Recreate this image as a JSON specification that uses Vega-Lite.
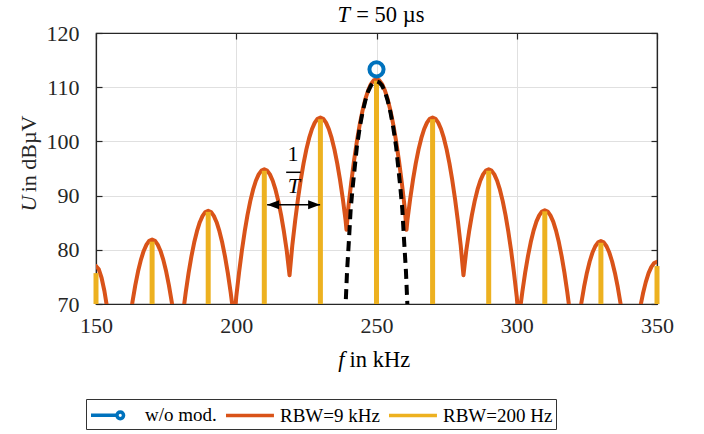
{
  "$schema": "https://vega.github.io/schema/vega-lite/v6.json",
  "width": 561,
  "height": 271,
  "autosize": {"type": "none"},
  "padding": {"left": 96, "top": 33, "right": 47, "bottom": 130},
  "background": "white",
  "config": {
    "view": {"stroke": "#262626", "strokeWidth": 1.2}
  },
  "datasets": {
    "orange": [
      {"f":149,"u":77.1},{"f":150,"u":77.0},{"f":151,"u":76.4},{"f":152,"u":74.8},{"f":153,"u":72.4},{"f":154,"u":69.2},{"f":155,"u":65.5},{"f":156,"u":61.5},{"f":158,"u":57},{"f":161,"u":62.87},
      {"f":162,"u":66.86},{"f":163,"u":70.39},{"f":164,"u":73.44},{"f":165,"u":76.03},{"f":166,"u":78.14},{"f":167,"u":79.79},{"f":168,"u":80.96},{"f":169,"u":81.67},{"f":170,"u":81.9},
      {"f":171,"u":81.67},{"f":172,"u":80.96},{"f":173,"u":79.79},{"f":174,"u":78.14},{"f":175,"u":76.03},{"f":176,"u":73.44},{"f":177,"u":70.39},{"f":178,"u":66.86},{"f":179,"u":62.87},{"f":179.44,"u":60},
      {"f":180,"u":63.7},{"f":181,"u":68.17},{"f":182,"u":72.16},{"f":183,"u":75.69},{"f":184,"u":78.74},{"f":185,"u":81.33},{"f":186,"u":83.44},{"f":187,"u":85.09},{"f":188,"u":86.26},{"f":189,"u":86.97},{"f":190,"u":87.2},
      {"f":191,"u":86.97},{"f":192,"u":86.26},{"f":193,"u":85.09},{"f":194,"u":83.44},{"f":195,"u":81.33},{"f":196,"u":78.74},{"f":197,"u":75.69},{"f":198,"u":72.16},{"f":199,"u":68.17},{"f":199.2,"u":66},
      {"f":200,"u":71.35},{"f":201,"u":75.82},{"f":202,"u":79.81},{"f":203,"u":83.34},{"f":204,"u":86.39},{"f":205,"u":88.98},{"f":206,"u":91.09},{"f":207,"u":92.74},{"f":208,"u":93.91},{"f":209,"u":94.62},{"f":210,"u":94.85},
      {"f":211,"u":94.62},{"f":212,"u":93.91},{"f":213,"u":92.74},{"f":214,"u":91.09},{"f":215,"u":88.98},{"f":216,"u":86.39},{"f":217,"u":83.34},{"f":218,"u":79.81},{"f":219,"u":75.3},
      {"f":220,"u":80.9},{"f":221,"u":85.37},{"f":222,"u":89.36},{"f":223,"u":92.89},{"f":224,"u":95.94},{"f":225,"u":98.53},{"f":226,"u":100.64},{"f":227,"u":102.29},{"f":228,"u":103.46},{"f":229,"u":104.17},{"f":230,"u":104.4},
      {"f":231,"u":104.17},{"f":232,"u":103.46},{"f":233,"u":102.29},{"f":234,"u":100.64},{"f":235,"u":98.53},{"f":236,"u":95.94},{"f":237,"u":92.89},{"f":238,"u":89.36},{"f":239,"u":85.37},{"f":239.3,"u":83.7},
      {"f":240,"u":88.0},{"f":241,"u":92.47},{"f":242,"u":96.46},{"f":243,"u":99.99},{"f":244,"u":103.04},{"f":245,"u":105.63},{"f":246,"u":107.74},{"f":247,"u":109.39},{"f":248,"u":110.56},{"f":249,"u":111.27},{"f":250,"u":111.5},
      {"f":251,"u":111.27},{"f":252,"u":110.56},{"f":253,"u":109.39},{"f":254,"u":107.74},{"f":255,"u":105.63},{"f":256,"u":103.04},{"f":257,"u":99.99},{"f":258,"u":96.46},{"f":259,"u":92.47},{"f":260,"u":88.0},{"f":260.7,"u":83.7},
      {"f":261,"u":85.37},{"f":262,"u":89.36},{"f":263,"u":92.89},{"f":264,"u":95.94},{"f":265,"u":98.53},{"f":266,"u":100.64},{"f":267,"u":102.29},{"f":268,"u":103.46},{"f":269,"u":104.17},{"f":270,"u":104.4},
      {"f":271,"u":104.17},{"f":272,"u":103.46},{"f":273,"u":102.29},{"f":274,"u":100.64},{"f":275,"u":98.53},{"f":276,"u":95.94},{"f":277,"u":92.89},{"f":278,"u":89.36},{"f":279,"u":85.37},{"f":280,"u":80.9},{"f":281,"u":75.3},
      {"f":282,"u":79.81},{"f":283,"u":83.34},{"f":284,"u":86.39},{"f":285,"u":88.98},{"f":286,"u":91.09},{"f":287,"u":92.74},{"f":288,"u":93.91},{"f":289,"u":94.62},{"f":290,"u":94.85},
      {"f":291,"u":94.62},{"f":292,"u":93.91},{"f":293,"u":92.74},{"f":294,"u":91.09},{"f":295,"u":88.98},{"f":296,"u":86.39},{"f":297,"u":83.34},{"f":298,"u":79.81},{"f":299,"u":75.82},{"f":300,"u":71.35},{"f":300.8,"u":66},
      {"f":301,"u":68.27},{"f":302,"u":72.26},{"f":303,"u":75.79},{"f":304,"u":78.84},{"f":305,"u":81.43},{"f":306,"u":83.54},{"f":307,"u":85.19},{"f":308,"u":86.36},{"f":309,"u":87.07},{"f":310,"u":87.3},
      {"f":311,"u":87.07},{"f":312,"u":86.36},{"f":313,"u":85.19},{"f":314,"u":83.54},{"f":315,"u":81.43},{"f":316,"u":78.84},{"f":317,"u":75.79},{"f":318,"u":72.26},{"f":319,"u":68.27},{"f":320,"u":63.8},{"f":320.6,"u":61},
      {"f":321,"u":62.57},{"f":322,"u":66.56},{"f":323,"u":70.09},{"f":324,"u":73.14},{"f":325,"u":75.73},{"f":326,"u":77.84},{"f":327,"u":79.49},{"f":328,"u":80.66},{"f":329,"u":81.37},{"f":330,"u":81.6},
      {"f":331,"u":81.37},{"f":332,"u":80.66},{"f":333,"u":79.49},{"f":334,"u":77.84},{"f":335,"u":75.73},{"f":336,"u":73.14},{"f":337,"u":70.09},{"f":338,"u":66.56},{"f":339,"u":62.57},{"f":340,"u":58},
      {"f":341,"u":58.77},{"f":342,"u":62.76},{"f":343,"u":66.29},{"f":344,"u":69.34},{"f":345,"u":71.93},{"f":346,"u":74.04},{"f":347,"u":75.69},{"f":348,"u":76.86},{"f":349,"u":77.57},{"f":350,"u":77.8},{"f":351,"u":77.8}
    ],
    "yellow": [
      {"f":150,"u":75.7},{"f":170,"u":81.5},{"f":190,"u":87.0},{"f":210,"u":94.6},{"f":230,"u":104.1},{"f":250,"u":111.2},
      {"f":270,"u":104.1},{"f":290,"u":94.6},{"f":310,"u":87.1},{"f":330,"u":81.3},{"f":350,"u":77.0}
    ],
    "black": [
      {"f":238.6,"u":65},{"f":239.0,"u":70},{"f":239.5,"u":76},{"f":240.2,"u":82},{"f":240.8,"u":87.5},{"f":241.5,"u":91.5},{"f":242.2,"u":95},{"f":243,"u":99},{"f":244,"u":102.5},{"f":245,"u":105.3},{"f":246,"u":107.5},{"f":247,"u":109.2},{"f":248,"u":110.3},{"f":249,"u":110.9},{"f":250,"u":111.1},
      {"f":251,"u":110.9},{"f":252,"u":110.3},{"f":253,"u":109.2},{"f":254,"u":107.5},{"f":255,"u":105.3},{"f":256,"u":102.5},{"f":257,"u":99},{"f":257.8,"u":95},{"f":258.5,"u":91.5},{"f":259.2,"u":87.5},{"f":259.8,"u":82},{"f":260.5,"u":76},{"f":261.0,"u":70},{"f":261.4,"u":65}
    ],
    "marker": [{"f":250,"u":113.3}],
    "arrow": [{"f1":211.0,"f2":229.9,"u":88.3}],
    "headL": [{"f":211.0,"u":88.3}],
    "headR": [{"f":229.9,"u":88.3}],
    "fracBar": [{"f1":217.8,"f2":222.9,"u":94.3}],
    "fracNum": [{"f":220.2,"u":96.3,"label":"1"}],
    "fracDen": [{"f":220.5,"u":90.4,"label":"T"}],
    "italicLabels": [
      {"f":240.6,"u":122.1,"label":"T"},
      {"f":238.6,"u":58.4,"label":"f"}
    ],
    "plainLabels": [
      {"f":242.8,"u":122.1,"label":"= 50 µs"},
      {"f":240.4,"u":58.4,"label":"in kHz"}
    ],
    "yItalic": [{"f":128.75,"u":90.0,"label":"U"}],
    "yPlain": [{"f":128.75,"u":90.6,"label":"in dBµV"}]
  },
  "resolve": {"axis": {"x": "independent", "y": "independent"}},
  "layer": [
    {
      "data": {"name": "marker"},
      "mark": {"type": "point", "opacity": 0},
      "encoding": {
        "x": {"field": "f", "type": "quantitative", "scale": {"domain": [150, 350], "nice": false, "zero": false},
              "axis": {"orient": "top", "grid": false, "labels": false, "title": null, "values": [150, 200, 250, 300, 350],
                       "tickSize": -6, "tickColor": "#262626", "tickWidth": 1.2, "domainColor": "#262626", "domainWidth": 1.2}},
        "y": {"field": "u", "type": "quantitative", "scale": {"domain": [70, 120], "nice": false, "zero": false},
              "axis": {"orient": "right", "grid": false, "labels": false, "title": null, "values": [70, 80, 90, 100, 110, 120],
                       "tickSize": -6, "tickColor": "#262626", "tickWidth": 1.2, "domainColor": "#262626", "domainWidth": 1.2}}
      }
    },
    {
      "data": {"name": "orange"},
      "mark": {"type": "line", "clip": true, "strokeWidth": 4, "strokeJoin": "round"},
      "encoding": {
        "x": {"field": "f", "type": "quantitative", "scale": {"domain": [150, 350], "nice": false, "zero": false},
              "axis": {"orient": "bottom", "grid": true, "gridColor": "#e0e0e0", "title": null, "values": [150, 200, 250, 300, 350],
                       "labelFont": "Liberation Serif", "labelFontSize": 22, "labelColor": "#262626", "labelFlush": false,
                       "labelPadding": 17, "tickSize": -6, "tickColor": "#262626", "tickWidth": 1.2,
                       "domainColor": "#262626", "domainWidth": 1.2}},
        "y": {"field": "u", "type": "quantitative", "scale": {"domain": [70, 120], "nice": false, "zero": false},
              "axis": {"orient": "left", "grid": true, "gridColor": "#e0e0e0", "title": null, "values": [70, 80, 90, 100, 110, 120],
                       "labelFont": "Liberation Serif", "labelFontSize": 22, "labelColor": "#262626", "labelFlush": false,
                       "labelPadding": 23, "tickSize": -6, "tickColor": "#262626", "tickWidth": 1.2,
                       "domainColor": "#262626", "domainWidth": 1.2}},
        "color": {
          "datum": "RBW=9 kHz", "type": "nominal",
          "scale": {"domain": ["w/o mod.", "RBW=9 kHz", "RBW=200 Hz"], "range": ["#0072BD", "#D95319", "#EDB120"]},
          "legend": {
            "title": null, "orient": "none", "legendX": -10, "legendY": 366, "direction": "horizontal",
            "symbolType": "stroke", "symbolSize": 484, "symbolStrokeWidth": 3.5,
            "labelFont": "Liberation Serif", "labelFontSize": 19, "labelColor": "#000000",
            "labelOffset": 30, "columnPadding": 2, "strokeColor": "#333333", "padding": 3,
            "encode": {"symbols": {"update": {
              "shape": {"signal": "datum.value === 'w/o mod.' ? 'M-1,0L1.45,0M1.66,-0.3A0.3,0.3 0 1,1 1.66,0.3A0.3,0.3 0 1,1 1.66,-0.3' : 'M-1,0L3.36,0'"},
              "fill": {"value": "white"}
            }}}
          }
        }
      }
    },
    {
      "data": {"name": "yellow"},
      "mark": {"type": "rule", "strokeWidth": 5},
      "encoding": {
        "x": {"field": "f", "type": "quantitative", "axis": null},
        "y": {"field": "u", "type": "quantitative", "axis": null},
        "y2": {"datum": 70},
        "color": {"datum": "RBW=200 Hz", "type": "nominal"}
      }
    },
    {
      "data": {"name": "black"},
      "mark": {"type": "line", "clip": true, "strokeWidth": 4, "color": "#000000", "strokeDash": [10, 6]},
      "encoding": {
        "x": {"field": "f", "type": "quantitative", "axis": null},
        "y": {"field": "u", "type": "quantitative", "axis": null}
      }
    },
    {
      "data": {"name": "marker"},
      "mark": {"type": "point", "filled": false, "size": 200, "strokeWidth": 4, "opacity": 1},
      "encoding": {
        "x": {"field": "f", "type": "quantitative", "axis": null},
        "y": {"field": "u", "type": "quantitative", "axis": null},
        "color": {"datum": "w/o mod.", "type": "nominal"}
      }
    },
    {
      "data": {"name": "arrow"},
      "mark": {"type": "rule", "strokeWidth": 1.5, "color": "#000000"},
      "encoding": {
        "x": {"field": "f1", "type": "quantitative", "axis": null},
        "x2": {"field": "f2"},
        "y": {"field": "u", "type": "quantitative", "axis": null}
      }
    },
    {
      "data": {"name": "headL"},
      "mark": {"type": "point", "shape": "M0,0L2,-0.75L2,0.75Z", "filled": true, "color": "#000000", "size": 144, "opacity": 1},
      "encoding": {
        "x": {"field": "f", "type": "quantitative", "axis": null},
        "y": {"field": "u", "type": "quantitative", "axis": null}
      }
    },
    {
      "data": {"name": "headR"},
      "mark": {"type": "point", "shape": "M0,0L-2,-0.75L-2,0.75Z", "filled": true, "color": "#000000", "size": 144, "opacity": 1},
      "encoding": {
        "x": {"field": "f", "type": "quantitative", "axis": null},
        "y": {"field": "u", "type": "quantitative", "axis": null}
      }
    },
    {
      "data": {"name": "fracBar"},
      "mark": {"type": "rule", "strokeWidth": 1.5, "color": "#000000"},
      "encoding": {
        "x": {"field": "f1", "type": "quantitative", "axis": null},
        "x2": {"field": "f2"},
        "y": {"field": "u", "type": "quantitative", "axis": null}
      }
    },
    {
      "data": {"name": "fracNum"},
      "mark": {"type": "text", "font": "Liberation Serif", "fontSize": 22, "align": "center", "baseline": "alphabetic", "color": "#000000"},
      "encoding": {
        "x": {"field": "f", "type": "quantitative", "axis": null},
        "y": {"field": "u", "type": "quantitative", "axis": null},
        "text": {"field": "label"}
      }
    },
    {
      "data": {"name": "fracDen"},
      "mark": {"type": "text", "font": "Liberation Serif", "fontSize": 22, "fontStyle": "italic", "align": "center", "baseline": "alphabetic", "color": "#000000"},
      "encoding": {
        "x": {"field": "f", "type": "quantitative", "axis": null},
        "y": {"field": "u", "type": "quantitative", "axis": null},
        "text": {"field": "label"}
      }
    },
    {
      "data": {"name": "italicLabels"},
      "mark": {"type": "text", "font": "Liberation Serif", "fontSize": 22.5, "fontStyle": "italic", "align": "right", "baseline": "alphabetic", "color": "#000000"},
      "encoding": {
        "x": {"field": "f", "type": "quantitative", "axis": null},
        "y": {"field": "u", "type": "quantitative", "axis": null},
        "text": {"field": "label"}
      }
    },
    {
      "data": {"name": "plainLabels"},
      "mark": {"type": "text", "font": "Liberation Serif", "fontSize": 22.5, "align": "left", "baseline": "alphabetic", "color": "#000000"},
      "encoding": {
        "x": {"field": "f", "type": "quantitative", "axis": null},
        "y": {"field": "u", "type": "quantitative", "axis": null},
        "text": {"field": "label"}
      }
    },
    {
      "data": {"name": "yItalic"},
      "mark": {"type": "text", "font": "Liberation Serif", "fontSize": 22, "fontStyle": "italic", "align": "right", "baseline": "alphabetic", "angle": 270, "color": "#262626"},
      "encoding": {
        "x": {"field": "f", "type": "quantitative", "axis": null},
        "y": {"field": "u", "type": "quantitative", "axis": null},
        "text": {"field": "label"}
      }
    },
    {
      "data": {"name": "yPlain"},
      "mark": {"type": "text", "font": "Liberation Serif", "fontSize": 22, "align": "left", "baseline": "alphabetic", "angle": 270, "color": "#262626"},
      "encoding": {
        "x": {"field": "f", "type": "quantitative", "axis": null},
        "y": {"field": "u", "type": "quantitative", "axis": null},
        "text": {"field": "label"}
      }
    }
  ]
}
